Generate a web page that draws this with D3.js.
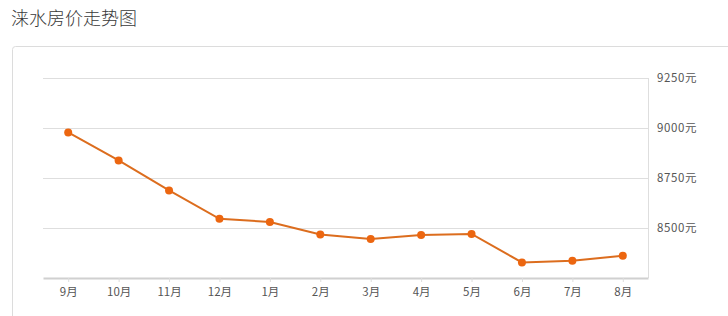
<!DOCTYPE html>
<html>
<head>
<meta charset="utf-8">
<script src="https://cdn.jsdelivr.net/npm/d3@7"></script>
<style>
  body { margin: 0; background: #fff; font-family: "Noto Sans CJK SC", "Noto Sans", sans-serif; }
</style>
</head>
<body>
<div id="chart"></div>
<script>
// months and average price (元/㎡)
var months = ["9月", "10月", "11月", "12月", "1月", "2月", "3月", "4月", "5月", "6月", "7月", "8月"];
var prices = [8978, 8838, 8688, 8546, 8530, 8468, 8445, 8465, 8470, 8328, 8336, 8361];
var yTicks = [8500, 8750, 9000, 9250];
var title = "涞水房价走势图";

function drawChart() {
    var width = 728, height = 316;
    var plot = { left: 43, right: 648, top: 78, bottom: 278 };

    var svg = d3.select("#chart")
        .append("svg")
        .attr("width", width)
        .attr("height", height);

    // title
    svg.append("text")
        .attr("x", 11)
        .attr("y", 25)
        .attr("font-size", 18)
        .attr("font-weight", 300)
        .attr("fill", "#3a3a3a")
        .text(title);

    // panel frame
    svg.append("rect")
        .attr("x", 12.5)
        .attr("y", 46.5)
        .attr("width", 730)
        .attr("height", 300)
        .attr("rx", 3)
        .attr("fill", "none")
        .attr("stroke", "#dcdcdc");

    var x = d3.scalePoint()
        .domain(months)
        .range([plot.left, plot.right])
        .padding(0.5);

    var y = d3.scaleLinear()
        .domain([8250, 9250])
        .range([plot.bottom, plot.top]);

    // horizontal grid
    svg.append("g")
        .selectAll("line")
        .data(yTicks)
        .enter()
        .append("line")
        .attr("x1", plot.left)
        .attr("x2", plot.right)
        .attr("y1", function(d) { return Math.round(y(d)) + 0.5; })
        .attr("y2", function(d) { return Math.round(y(d)) + 0.5; })
        .style("stroke", "#dedede")
        .style("stroke-width", 1);

    // right border of plot
    svg.append("line")
        .attr("x1", plot.right + 0.5)
        .attr("x2", plot.right + 0.5)
        .attr("y1", y(9250))
        .attr("y2", plot.bottom)
        .style("stroke", "#dedede");

    // y axis labels on the right
    var yAxis = d3.axisRight(y)
        .tickValues(yTicks)
        .tickSize(0)
        .tickPadding(9)
        .tickFormat(function(d) { return d + "元"; });

    var gy = svg.append("g")
        .attr("transform", "translate(" + plot.right + ",0)")
        .call(yAxis);
    gy.select(".domain").remove();
    gy.selectAll("text")
        .attr("font-size", 11.5)
        .attr("letter-spacing", 0.6)
        .attr("font-family", "Noto Sans CJK SC, sans-serif")
        .attr("fill", "#555");

    // x axis
    var xAxis = d3.axisBottom(x)
        .tickSize(4)
        .tickPadding(6)
        .tickSizeOuter(0);

    var gx = svg.append("g")
        .attr("transform", "translate(0," + plot.bottom + ")")
        .call(xAxis);
    gx.select(".domain")
        .style("stroke", "#d0d0d0")
        .style("stroke-width", 2);
    gx.selectAll(".tick line").style("stroke", "#ddd");
    gx.selectAll("text")
        .attr("font-size", 11.5)
        .attr("font-family", "Noto Sans CJK SC, sans-serif")
        .attr("fill", "#555");

    // price line
    var line = d3.line()
        .x(function(d, i) { return x(months[i]); })
        .y(function(d) { return y(d); });

    svg.append("path")
        .datum(prices)
        .attr("d", line)
        .attr("fill", "none")
        .style("stroke", "#dc6d1e")
        .style("stroke-width", 2);

    svg.selectAll("circle.pt")
        .data(prices)
        .enter()
        .append("circle")
        .attr("class", "pt")
        .attr("cx", function(d, i) { return x(months[i]); })
        .attr("cy", function(d) { return y(d); })
        .attr("r", 4)
        .style("fill", "#ec6610");
}

drawChart();
</script>
</body>
</html>
